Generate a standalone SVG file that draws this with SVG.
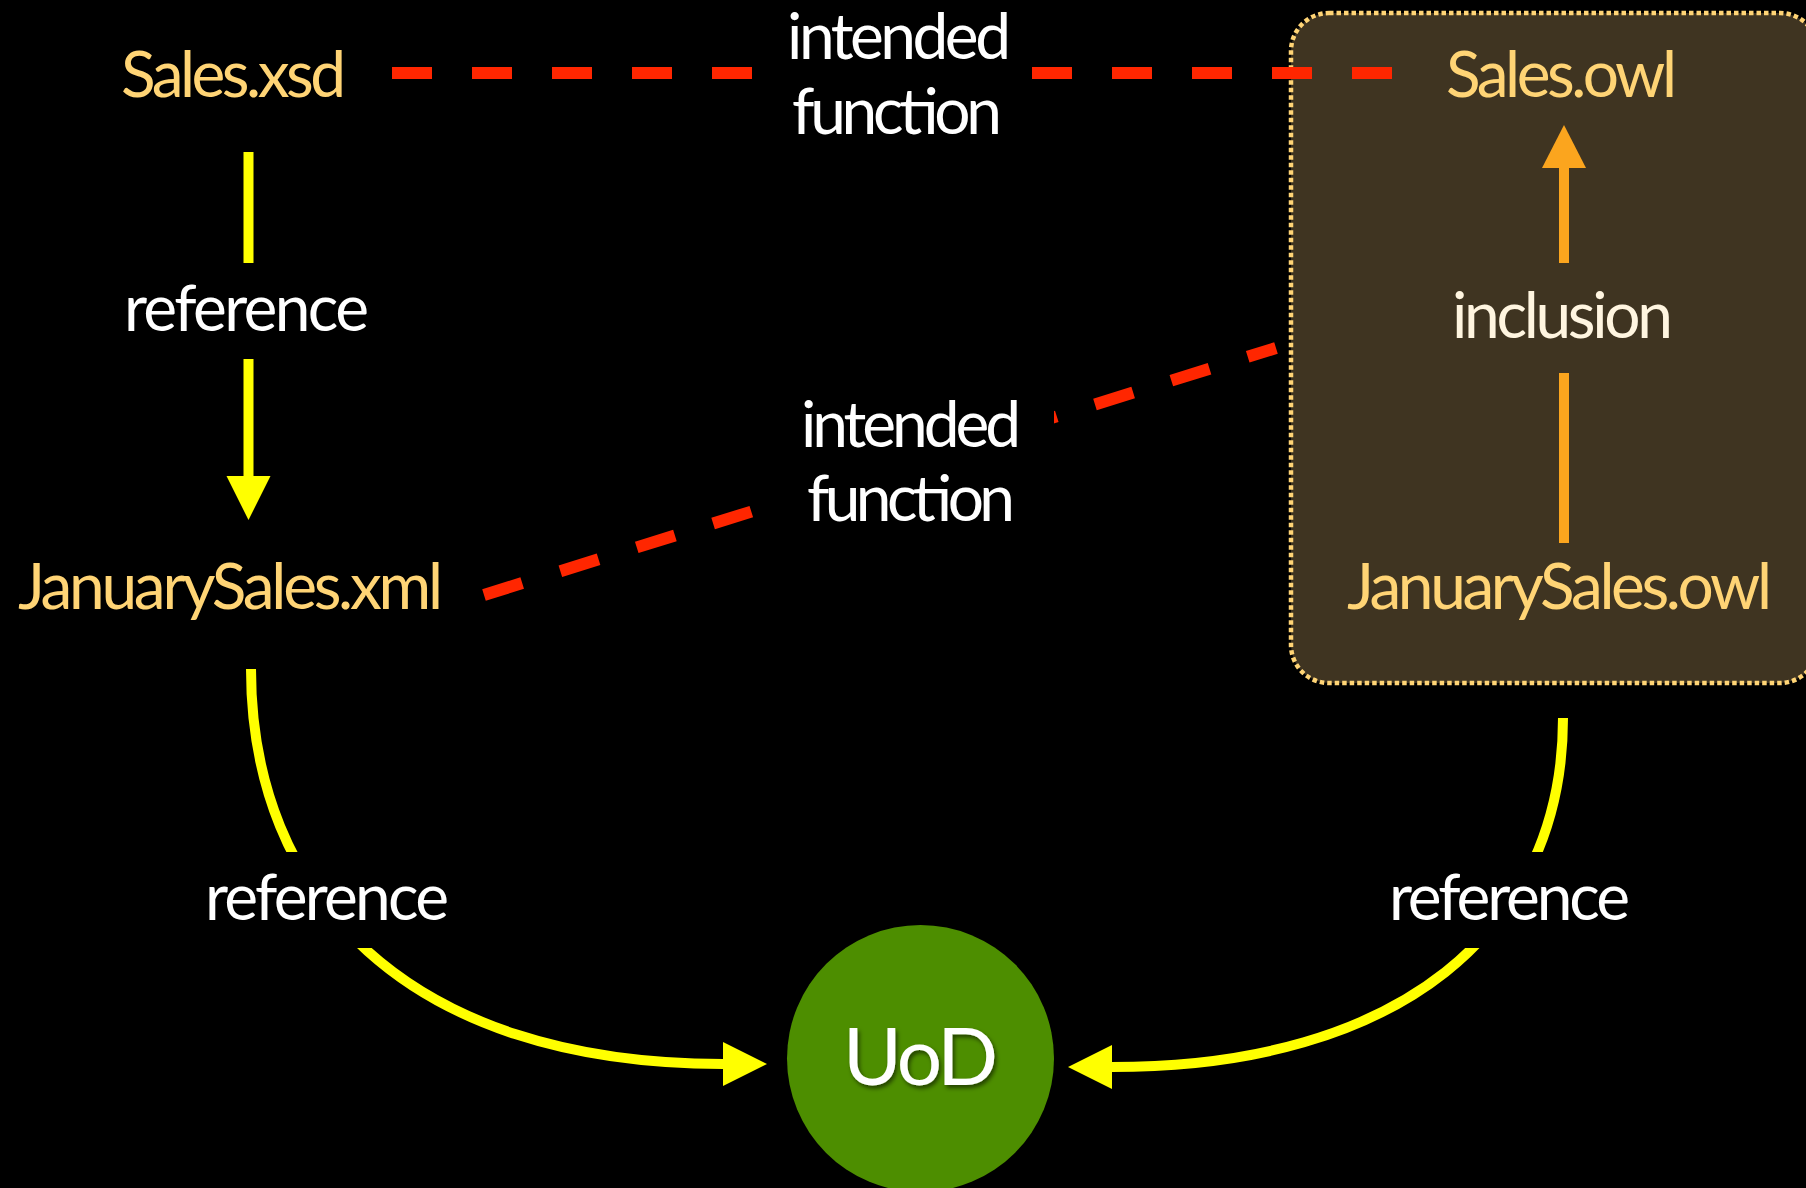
<svg xmlns="http://www.w3.org/2000/svg" width="1806" height="1188" viewBox="0 0 1806 1188">
  <style>
    .node { font-family: Lato, "Open Sans", "Liberation Sans", sans-serif; font-size: 64px; fill: #FFD475; text-anchor: middle; }
    .lbl { font-family: Lato, "Open Sans", "Liberation Sans", sans-serif; font-size: 64px; fill: #FFFFFF; text-anchor: middle; }
    .incl { fill: #FFF5E0; }
    .uod { font-family: Lato, "Open Sans", "Liberation Sans", sans-serif; font-size: 80px; fill: #FFFFFF; text-anchor: middle; }
    .ref { fill: none; stroke: #FFFF00; stroke-width: 10; }
    .inc { fill: none; stroke: #FBA51E; stroke-width: 10; }
    .fn { fill: none; stroke: #FF2600; stroke-width: 12; stroke-dasharray: 40 40; }
    .mask { fill: #000000; }
  </style>
  <defs>
    <marker id="arrowYellow" markerUnits="userSpaceOnUse" markerWidth="46" markerHeight="46" viewBox="0 -23 46 46" refX="0" refY="0" orient="auto">
      <path d="M0,-22 L44,0 L0,22 Z" fill="#FFFF00"/>
    </marker>
    <marker id="arrowOrange" markerUnits="userSpaceOnUse" markerWidth="46" markerHeight="46" viewBox="0 -23 46 46" refX="0" refY="0" orient="auto">
      <path d="M0,-22 L43,0 L0,22 Z" fill="#FBA51E"/>
    </marker>
    <filter id="shadow" x="-20%" y="-20%" width="140%" height="140%">
      <feDropShadow dx="2" dy="3" stdDeviation="2" flood-color="#000000" flood-opacity="0.55"/>
    </filter>
  </defs>

  <rect x="0" y="0" width="1806" height="1188" fill="#000000"/>

  <!-- OWL group container -->
  <g id="owl-group">
    <rect x="1291" y="13" width="527" height="670" rx="38" ry="38" fill="#3F3421" stroke="#FFD475" stroke-width="4.5" stroke-dasharray="4.5 3"/>
  </g>

  <g id="connectors">
    <!-- Sales.xsd -> JanuarySales.xml : reference -->
    <path class="ref" d="M248.5,152 V476" marker-end="url(#arrowYellow)"/>
    <rect class="mask" x="110" y="263" width="280" height="96"/>
    <text class="lbl" x="246.5" y="331" textLength="245">reference</text>

    <!-- JanuarySales.owl -> Sales.owl : inclusion -->
    <path class="inc" d="M1564,543 V168" marker-end="url(#arrowOrange)"/>
    <rect x="1430" y="263" width="270" height="110" fill="#3F3421"/>
    <text class="lbl incl" x="1562.5" y="338" textLength="221">inclusion</text>

    <!-- JanuarySales.xml -> UoD : reference -->
    <path class="ref" d="M251,669 C251,895 405,1064 723,1064" marker-end="url(#arrowYellow)"/>
    <rect class="mask" x="195" y="852" width="270" height="96"/>
    <text class="lbl" x="327" y="920" textLength="244">reference</text>

    <!-- JanuarySales.owl -> UoD : reference -->
    <path class="ref" d="M1563,718 C1563,930 1400,1067 1112,1067" marker-end="url(#arrowYellow)"/>
    <rect class="mask" x="1375" y="852" width="270" height="96"/>
    <text class="lbl" x="1509.5" y="920" textLength="241">reference</text>

    <!-- Sales.xsd - Sales.owl : intended function -->
    <path class="fn" d="M392,73 H1392"/>
    <rect class="mask" x="770" y="20" width="250" height="125"/>
    <text class="lbl" x="899" y="59" textLength="224">intended</text>
    <text class="lbl" x="897" y="134" textLength="210">function</text>

    <!-- JanuarySales.xml - JanuarySales.owl : intended function -->
    <path class="fn" d="M484,595 L1276,348"/>
    <rect class="mask" x="770" y="395" width="284" height="140"/>
    <text class="lbl" x="911" y="447" textLength="220">intended</text>
    <text class="lbl" x="911" y="521" textLength="208">function</text>
  </g>

  <g id="sales-xsd">
    <text class="node" x="233.5" y="97" textLength="225">Sales.xsd</text>
  </g>
  <g id="sales-owl">
    <text class="node" x="1561.5" y="97" textLength="231">Sales.owl</text>
  </g>
  <g id="january-sales-xml">
    <text class="node" x="230.5" y="609" textLength="425">JanuarySales.xml</text>
  </g>
  <g id="january-sales-owl">
    <text class="node" x="1559.5" y="609" textLength="425">JanuarySales.owl</text>
  </g>
  <g id="uod">
    <circle cx="920.5" cy="1058.5" r="133.5" fill="#4D8E00"/>
    <text class="uod" x="920.5" y="1085" textLength="155" filter="url(#shadow)">UoD</text>
  </g>
</svg>
